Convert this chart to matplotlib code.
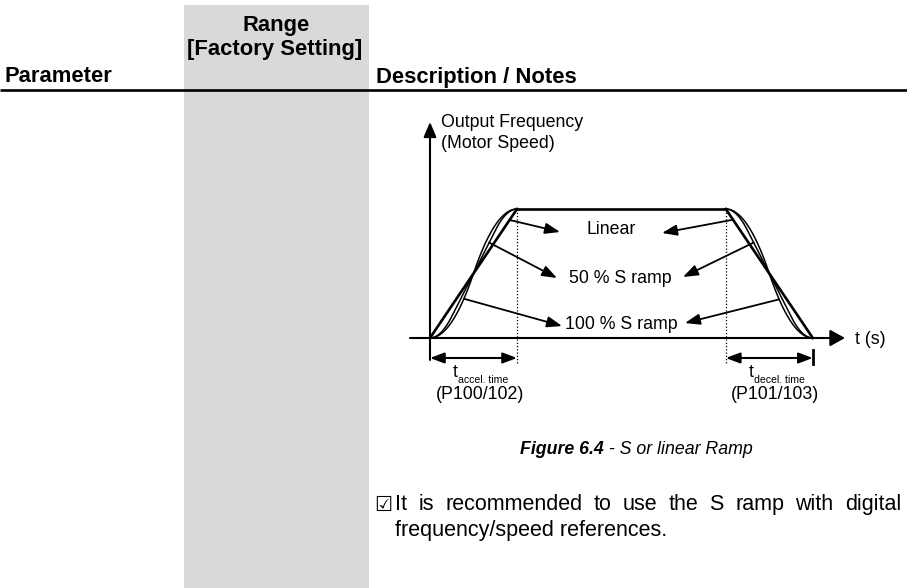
import numpy as np
import matplotlib
matplotlib.use("Agg")
import matplotlib.pyplot as plt
from matplotlib.patches import Rectangle, FancyArrowPatch

# ---------------------------------------------------------------- content
header_param = "Parameter"
header_range = ["Range", "[Factory Setting]"]
header_desc = "Description / Notes"

y_axis_label = ["Output Frequency", "(Motor Speed)"]
x_axis_label = "t (s)"

ramp_labels = ["Linear", "50 % S ramp", "100 % S ramp"]
s_ratios = [0.0, 0.5, 1.0]          # share of the ramp time spent in the S curves

accel_time = 1.0                    # schematic units
hold_time = 2.4
decel_time = 1.0
f_max = 1.0

time_subscripts = ["accel. time", "decel. time"]
time_params = ["(P100/102)", "(P101/103)"]

caption_bold = "Figure 6.4"
caption_rest = " - S or linear Ramp"

note_words = "It is recommended to use the S ramp with digital".split()
note_line2 = "frequency/speed references."

# ---------------------------------------------------------------- page setup
W, H = 907, 588
fig = plt.figure(figsize=(W / 100, H / 100), dpi=100)
plt.rcParams["font.family"] = ["Liberation Sans", "DejaVu Sans"]

page = fig.add_axes([0, 0, 1, 1])
page.set_xlim(0, W)
page.set_ylim(H, 0)
page.axis("off")

# diagram axes: origin and scale of the time / frequency frame on the page
ORG_X, ORG_Y = 430, 338
PX_PER_T, PX_PER_F = 87, 129
ax = fig.add_axes([0, 0, 1, 1])
ax.set_xlim(-ORG_X / PX_PER_T, (W - ORG_X) / PX_PER_T)
ax.set_ylim((ORG_Y - H) / PX_PER_F, ORG_Y / PX_PER_F)
ax.axis("off")
ax.patch.set_alpha(0)

HDR = 15.8      # pt
BODY = 15.5
DIAG = 12.8
SUB = 7.6

# grey "Range" column and header rule
page.add_patch(Rectangle((184, 5), 185, H, facecolor="#d9d9d9", edgecolor="none", zorder=0))
page.plot([0, W], [90, 90], color="black", lw=1.9, zorder=2, solid_capstyle="butt")

page.text(5, 82, header_param, fontsize=HDR, fontweight="bold", va="baseline", ha="left")
page.text(276, 31, header_range[0], fontsize=HDR, fontweight="bold", va="baseline", ha="center")
page.text(275, 55, header_range[1], fontsize=HDR, fontweight="bold", va="baseline", ha="center")
page.text(376, 83, header_desc, fontsize=HDR, fontweight="bold", va="baseline", ha="left")


# ---------------------------------------------------------------- ramp profiles
def s_profile(u, r):
    """Normalised speed after a fraction u of the ramp, with S share r."""
    u = np.asarray(u, float)
    if r == 0:
        return u.copy()
    tc = r / 2
    a = 1 / (1 - tc)
    return np.where(u < tc, a * u ** 2 / (2 * tc),
                    np.where(u > 1 - tc, 1 - a * (1 - u) ** 2 / (2 * tc),
                             a * tc / 2 + a * (u - tc)))


t_acc_end = accel_time
t_dec_start = accel_time + hold_time
t_dec_end = t_dec_start + decel_time

u = np.linspace(0, 1, 200)
for r in s_ratios:
    f_up = f_max * s_profile(u, r)
    f_down = f_max * (1 - s_profile(u, r))
    lw = 1.9 if r == 0 else 1.1
    ax.plot(u * accel_time, f_up, color="black", lw=lw, zorder=3)
    ax.plot(t_dec_start + u * decel_time, f_down, color="black", lw=lw, zorder=3)
ax.plot([t_acc_end, t_dec_start], [f_max, f_max], color="black", lw=1.9, zorder=3,
        solid_capstyle="round")

# axes with arrow heads
x_lo, x_hi = -0.23, 4.77
y_lo, y_hi = -0.17, 1.675
ax.add_patch(FancyArrowPatch((x_lo, 0), (x_hi, 0),
             arrowstyle="-|>,head_length=0.9,head_width=0.5", mutation_scale=10,
             color="black", lw=1.5, shrinkA=0, shrinkB=0, zorder=4))
ax.add_patch(FancyArrowPatch((0, y_lo), (0, y_hi),
             arrowstyle="-|>,head_length=0.9,head_width=0.38", mutation_scale=10,
             color="black", lw=1.5, shrinkA=0, shrinkB=0, zorder=4))

# dotted guides at the end of acceleration / start of deceleration
for tx in (t_acc_end, t_dec_start):
    ax.plot([tx, tx], [f_max, -0.19], color="black", lw=0.9, ls=(0, (1, 1.6)), zorder=2)

# dimension arrows for the ramp times
dim_f = -0.155
for t0, t1 in ((0, t_acc_end), (t_dec_start, t_dec_end)):
    ax.add_patch(FancyArrowPatch((t0, dim_f), (t1, dim_f),
                 arrowstyle="<|-|>,head_length=0.85,head_width=0.32", mutation_scale=10,
                 color="black", lw=1.5, shrinkA=0, shrinkB=0, zorder=4))
ax.plot([t_dec_end, t_dec_end], [-0.09, -0.2], color="black", lw=2.0, zorder=4)

# axis labels
ax.text(0.13, 1.635, y_axis_label[0], fontsize=DIAG, va="baseline", ha="left")
ax.text(0.13, 1.472, y_axis_label[1], fontsize=DIAG, va="baseline", ha="left")
ax.text(4.89, -0.045, x_axis_label, fontsize=DIAG, va="baseline", ha="left")

# time annotations under the axis
for t_start, sub, par in ((0, time_subscripts[0], time_params[0]),
                          (t_dec_start, time_subscripts[1], time_params[1])):
    ax.text(t_start + 0.265, -0.302, "t", fontsize=DIAG, va="baseline", ha="left")
    ax.text(t_start + 0.325, -0.35, sub, fontsize=SUB, va="baseline", ha="left")
    ax.text(t_start + 0.57, -0.472, par, fontsize=DIAG, va="baseline", ha="center")

# ramp labels with arrows pointing from each curve
label_pos = [(2.086, 0.81), (2.184, 0.425), (2.2, 0.07)]
accel_pick = [0.915, 0.68, 0.39]      # fraction of the accel ramp where arrows start
decel_pick = [0.083, 0.32, 0.613]     # fraction of the decel ramp where arrows start
tip_left = [(1.494, 0.822), (1.46, 0.465), (1.517, 0.093)]
tip_right = [(2.667, 0.814), (2.908, 0.473), (2.931, 0.116)]

for i, (lab, r) in enumerate(zip(ramp_labels, s_ratios)):
    lx, ly = label_pos[i]
    ax.text(lx, ly, lab, fontsize=DIAG, va="baseline", ha="center", zorder=5)
    ua = accel_pick[i]
    start_l = (ua * accel_time, f_max * float(s_profile(ua, r)))
    ud = decel_pick[i]
    start_r = (t_dec_start + ud * decel_time, f_max * (1 - float(s_profile(ud, r))))
    for start, tip in ((start_l, tip_left[i]), (start_r, tip_right[i])):
        ax.add_patch(FancyArrowPatch(start, tip,
                     arrowstyle="-|>,head_length=0.9,head_width=0.33", mutation_scale=10,
                     color="black", lw=1.3, shrinkA=0, shrinkB=0, zorder=4))

# ---------------------------------------------------------------- caption and note
fig.canvas.draw()
renderer = fig.canvas.get_renderer()

c1 = page.text(0, 454, caption_bold, fontsize=DIAG, fontweight="bold", fontstyle="italic",
               va="baseline", ha="left")
c2 = page.text(0, 454, caption_rest, fontsize=DIAG, fontstyle="italic",
               va="baseline", ha="left")
w1 = c1.get_window_extent(renderer).width
w2 = c2.get_window_extent(renderer).width
cap_left = 636.5 - (w1 + w2) / 2
c1.set_x(cap_left)
c2.set_x(cap_left + w1)

page.text(374, 511, "\u2611", fontsize=14.5, fontweight="bold", family=["DejaVu Sans"],
          va="baseline", ha="left")

words = [page.text(0, 510, w, fontsize=BODY, va="baseline", ha="left") for w in note_words]
widths = [t.get_window_extent(renderer).width for t in words]
line_left, line_right = 395, 901
gap = (line_right - line_left - sum(widths)) / (len(words) - 1)
x = line_left
for t, w in zip(words, widths):
    t.set_x(x)
    x += w + gap

page.text(395, 536, note_line2, fontsize=BODY, va="baseline", ha="left")

fig.savefig("out.png", dpi=100)
